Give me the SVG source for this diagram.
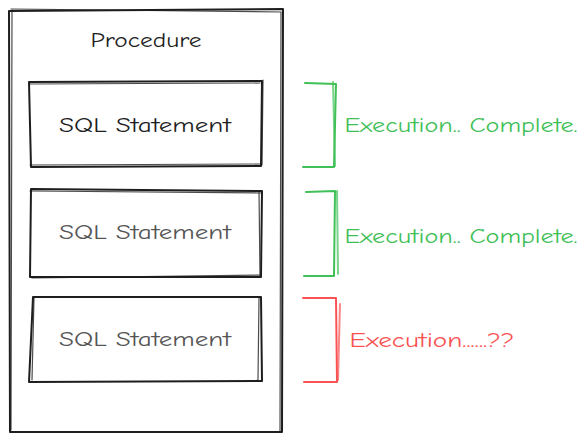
<svg xmlns="http://www.w3.org/2000/svg" width="588" height="441" viewBox="0 0 588 441">
<style>
.box{fill:none;stroke:#1e1e1e;stroke-width:2;stroke-linecap:round;stroke-linejoin:round}
.box2{fill:none;stroke:#1e1e1e;stroke-width:1.2;stroke-linecap:round;opacity:0.8}
.t{font-family:"Comic Neue","Liberation Sans",sans-serif;font-size:20px;text-anchor:middle;dominant-baseline:central}
.g{fill:none;stroke:#40c057;stroke-width:2;stroke-linecap:round;stroke-linejoin:round}
.r{fill:none;stroke:#fa5252;stroke-width:2;stroke-linecap:round;stroke-linejoin:round}
</style>
<rect width="588" height="441" fill="#ffffff"/>
<g id="procedure">
<path class="box" d="M9 11 L283 9 L282 432 L10 432 Z"/>
<path class="box2" d="M11 9 L281 12 L280 431 M12 10 L11 430"/>
<text class="t" x="146" y="40" fill="#1e1e1e" textLength="111" lengthAdjust="spacingAndGlyphs">Procedure</text>
</g>
<g id="stmt1">
<path class="box" d="M29 82 L262 81 L261 166 L31 167 Z"/>
<path class="box2" d="M30 84 L260 83 M263 80 L262 165 M30 165 L260 164"/>
<text class="t" x="145" y="125" fill="#1e1e1e" textLength="172" lengthAdjust="spacingAndGlyphs">SQL Statement</text>
</g>
<g id="stmt2">
<path class="box" d="M31 189 L262 191 L261 277 L30 277 Z"/>
<path class="box2" d="M30 191 L261 193 M259 191 L260 276 M32 278 L260 275"/>
<text class="t" x="145" y="232" fill="#555555" textLength="172" lengthAdjust="spacingAndGlyphs">SQL Statement</text>
</g>
<g id="stmt3">
<path class="box" d="M33 297 L261 297 L262 381 L29 382 Z"/>
<path class="box2" d="M34 298 L32 380 M259 298 L258 379 M257 380 L262 381"/>
<text class="t" x="145" y="339" fill="#555555" textLength="172" lengthAdjust="spacingAndGlyphs">SQL Statement</text>
</g>
<g id="connectors">
<path class="g" d="M305 83 L336 84 L334 167 L303 167"/>
<path class="g" d="M333 82 L335 166" opacity="0.7"/>
<path class="g" d="M306 192 L335 191 L334 276 L304 276"/>
<path class="g" d="M337 191 L338 274" opacity="0.7"/>
<path class="r" d="M303 298 L336 298 L337 382 L304 382"/>
<path class="r" d="M340 304 L338 380" opacity="0.7"/>
</g>
<g id="labels">
<text class="t" x="461" y="125" fill="#40c057" textLength="233" lengthAdjust="spacingAndGlyphs">Execution.. Complete.</text>
<text class="t" x="461" y="236" fill="#40c057" textLength="233" lengthAdjust="spacingAndGlyphs">Execution.. Complete.</text>
<text class="t" x="432" y="340" fill="#fa5252" textLength="165" lengthAdjust="spacingAndGlyphs">Execution......??</text>
</g>
</svg>
